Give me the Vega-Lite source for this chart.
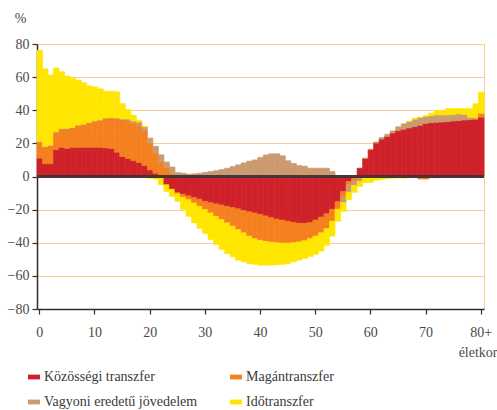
{
  "$schema": "https://vega.github.io/schema/vega-lite/v6.json",
  "width": 447,
  "height": 265,
  "autosize": {"type": "none"},
  "padding": {"left": 37, "top": 44, "right": 13, "bottom": 101},
  "background": "white",
  "config": {
    "font": "Liberation Sans Narrow",
    "view": {"stroke": "#FDC98F", "strokeWidth": 1},
    "axis": {"labelFont": "Liberation Sans Narrow", "titleFont": "Liberation Sans Narrow", "labelColor": "#4a4a4a", "titleColor": "#4a4a4a", "labelFontSize": 14, "titleFontSize": 14, "titleFontWeight": "normal", "domainColor": "#3b2a2a", "tickColor": "#3b2a2a", "domainWidth": 1.5, "tickWidth": 1.2, "labelOverlap": false},
    "legend": {"labelFont": "Liberation Sans Narrow", "labelFontSize": 14, "labelColor": "#3a3a3a"}
  },
  "resolve": {"axis": {"y": "independent"}},
  "data": {
    "values": [
      {"age":0,"a":11.1,"b":9.7,"c":0.3,"d":55.1},
      {"age":1,"a":7.7,"b":10.1,"c":0.3,"d":46.9},
      {"age":2,"a":7.7,"b":10.9,"c":0.3,"d":42.3},
      {"age":3,"a":16.2,"b":10.5,"c":0.3,"d":38.5},
      {"age":4,"a":17.6,"b":11.1,"c":0.3,"d":34.2},
      {"age":5,"a":17.0,"b":11.7,"c":0.3,"d":31.6},
      {"age":6,"a":17.6,"b":11.7,"c":0.3,"d":29.8},
      {"age":7,"a":17.6,"b":13.1,"c":0.3,"d":27.2},
      {"age":8,"a":17.6,"b":13.7,"c":0.3,"d":25.0},
      {"age":9,"a":17.6,"b":14.7,"c":0.3,"d":22.1},
      {"age":10,"a":17.6,"b":15.7,"c":0.3,"d":20.5},
      {"age":11,"a":17.6,"b":16.3,"c":0.3,"d":18.7},
      {"age":12,"a":17.3,"b":17.7,"c":0.3,"d":16.2},
      {"age":13,"a":17.0,"b":18.2,"c":0.3,"d":16.0},
      {"age":14,"a":14.7,"b":20.3,"c":0.4,"d":15.7},
      {"age":15,"a":12.1,"b":22.2,"c":0.5,"d":9.2},
      {"age":16,"a":10.9,"b":23.0,"c":0.8,"d":5.7},
      {"age":17,"a":9.7,"b":22.6,"c":1.2,"d":3.5},
      {"age":18,"a":8.5,"b":22.6,"c":1.8,"d":1.0},
      {"age":19,"a":6.7,"b":21.0,"c":2.3,"d":0.3},
      {"age":20,"a":4.0,"b":16.2,"c":3.0,"d":-1.0},
      {"age":21,"a":2.0,"b":12.1,"c":4.1,"d":-1.6},
      {"age":22,"a":1.0,"b":8.1,"c":4.0,"d":-5.0},
      {"age":23,"a":-5.0,"b":5.5,"c":3.2,"d":-4.0},
      {"age":24,"a":-7.7,"b":2.0,"c":3.7,"d":-4.3},
      {"age":25,"a":-9.7,"b":-0.8,"c":2.3,"d":-4.5},
      {"age":26,"a":-10.7,"b":-1.8,"c":2.0,"d":-7.3},
      {"age":27,"a":-11.7,"b":-2.3,"c":1.4,"d":-10.0},
      {"age":28,"a":-12.7,"b":-3.3,"c":1.6,"d":-12.0},
      {"age":29,"a":-13.7,"b":-4.3,"c":2.0,"d":-13.3},
      {"age":30,"a":-15.0,"b":-5.0,"c":2.5,"d":-14.3},
      {"age":31,"a":-15.8,"b":-6.2,"c":3.0,"d":-16.0},
      {"age":32,"a":-16.5,"b":-7.5,"c":3.5,"d":-17.0},
      {"age":33,"a":-17.2,"b":-8.8,"c":4.2,"d":-18.0},
      {"age":34,"a":-18.0,"b":-10.0,"c":5.0,"d":-18.5},
      {"age":35,"a":-18.8,"b":-11.2,"c":6.0,"d":-18.5},
      {"age":36,"a":-19.5,"b":-12.5,"c":7.0,"d":-18.5},
      {"age":37,"a":-20.5,"b":-13.5,"c":8.2,"d":-17.5},
      {"age":38,"a":-21.3,"b":-14.7,"c":9.3,"d":-16.5},
      {"age":39,"a":-22.0,"b":-15.5,"c":10.0,"d":-15.5},
      {"age":40,"a":-22.8,"b":-15.7,"c":11.5,"d":-15.0},
      {"age":41,"a":-23.8,"b":-15.4,"c":13.0,"d":-14.3},
      {"age":42,"a":-24.8,"b":-14.8,"c":13.7,"d":-13.9},
      {"age":43,"a":-25.7,"b":-14.3,"c":13.7,"d":-13.3},
      {"age":44,"a":-26.3,"b":-13.9,"c":12.5,"d":-12.8},
      {"age":45,"a":-27.0,"b":-13.2,"c":9.5,"d":-12.3},
      {"age":46,"a":-27.7,"b":-12.3,"c":7.8,"d":-11.5},
      {"age":47,"a":-28.2,"b":-11.3,"c":6.6,"d":-11.0},
      {"age":48,"a":-28.3,"b":-10.5,"c":6.2,"d":-10.7},
      {"age":49,"a":-27.8,"b":-9.7,"c":5.0,"d":-10.8},
      {"age":50,"a":-26.3,"b":-9.7,"c":5.0,"d":-11.0},
      {"age":51,"a":-24.5,"b":-9.5,"c":5.0,"d":-11.0},
      {"age":52,"a":-22.5,"b":-9.0,"c":5.0,"d":-10.0},
      {"age":53,"a":-19.8,"b":-7.2,"c":3.0,"d":-9.0},
      {"age":54,"a":-15.2,"b":-4.6,"c":0.5,"d":-7.2},
      {"age":55,"a":-9.1,"b":-3.2,"c":-3.4,"d":-5.3},
      {"age":56,"a":-3.0,"b":-2.0,"c":-4.5,"d":-4.5},
      {"age":57,"a":0.4,"b":-2.5,"c":-3.0,"d":-4.0},
      {"age":58,"a":5.0,"b":-0.3,"c":-2.7,"d":-3.0},
      {"age":59,"a":10.8,"b":-0.2,"c":0.3,"d":-3.5},
      {"age":60,"a":16.2,"b":-0.5,"c":0.3,"d":-3.0},
      {"age":61,"a":20.2,"b":-0.5,"c":0.6,"d":-1.7},
      {"age":62,"a":22.6,"b":-0.3,"c":0.9,"d":-1.5},
      {"age":63,"a":24.2,"b":0,"c":1.3,"d":-1.2},
      {"age":64,"a":26.3,"b":0,"c":1.2,"d":-1.0},
      {"age":65,"a":27.7,"b":0,"c":2.3,"d":-0.8},
      {"age":66,"a":28.5,"b":-0.3,"c":3.3,"d":-0.7},
      {"age":67,"a":29.3,"b":0,"c":3.9,"d":0.3},
      {"age":68,"a":30.1,"b":-0.5,"c":4.5,"d":0.6},
      {"age":69,"a":30.9,"b":-1.5,"c":4.7,"d":0.2},
      {"age":70,"a":32.0,"b":-1.5,"c":4.2,"d":0.6},
      {"age":71,"a":32.5,"b":-0.7,"c":4.1,"d":1.6},
      {"age":72,"a":32.7,"b":-0.7,"c":4.5,"d":2.6},
      {"age":73,"a":32.9,"b":-0.6,"c":4.3,"d":2.6},
      {"age":74,"a":33.1,"b":-0.6,"c":4.1,"d":3.8},
      {"age":75,"a":33.5,"b":-0.4,"c":3.9,"d":3.6},
      {"age":76,"a":33.7,"b":-0.3,"c":4.1,"d":3.2},
      {"age":77,"a":34.1,"b":-0.3,"c":3.3,"d":3.6},
      {"age":78,"a":34.3,"b":-0.3,"c":1.5,"d":5.2},
      {"age":79,"a":34.5,"b":0.6,"c":0.4,"d":8.4},
      {"age":80,"a":35.8,"b":2.4,"c":-0.3,"d":12.7}
    ]
  },
  "layer": [
    {
      "transform": [{"fold": ["a", "b", "c", "d"], "as": ["k", "v"]}, {"filter": "datum.v != 0"}],
      "mark": {"type": "bar", "strokeWidth": 0.7},
      "encoding": {
        "x": {
          "field": "age", "type": "ordinal",
          "scale": {"paddingInner": 0, "paddingOuter": 0},
          "axis": {
            "values": [0, 10, 20, 30, 40, 50, 60, 70, 80],
            "labelExpr": "datum.value == 80 ? '80+' : datum.label",
            "labelAngle": 0, "tickSize": 5, "labelPadding": 11, "labelOverlap": false,
            "title": "életkor", "titleAnchor": "end", "titleAlign": "right", "titleBaseline": "middle",
            "titleX": 460, "titleY": 43
          }
        },
        "y": {
          "field": "v", "type": "quantitative", "stack": "zero",
          "scale": {"domain": [-80, 80], "nice": false},
          "axis": {
            "values": [-80, -60, -40, -20, 0, 20, 40, 60, 80],
            "labelOverlap": false, "labelFlush": false, "labelBound": false,
            "grid": true, "gridColor": "#FDC98F", "gridWidth": 1,
            "tickSize": 5, "labelPadding": 3,
            "title": "%", "titleAngle": 0, "titleAlign": "center", "titleBaseline": "middle",
            "titleX": -17, "titleY": -26
          }
        },
        "color": {
          "field": "k", "type": "nominal",
          "scale": {"domain": ["a", "b", "c", "d"], "range": ["#CE212A", "#F58020", "#CC9A70", "#FFE600"]},
          "legend": {
            "title": null, "orient": "none", "legendX": -10, "legendY": 326, "direction": "horizontal",
            "columns": 2, "columnPadding": 31, "rowPadding": 11,
            "symbolType": "M-1,-0.4H1V0.4H-1Z", "symbolSize": 144, "symbolStrokeWidth": 0, "labelOffset": 3,
            "labelExpr": "datum.label == 'a' ? 'Közösségi transzfer' : datum.label == 'b' ? 'Magántranszfer' : datum.label == 'c' ? 'Vagyoni eredetű jövedelem' : 'Időtranszfer'"
          }
        },
        "stroke": {
          "field": "k", "type": "nominal",
          "scale": {"domain": ["a", "b", "c", "d"], "range": ["#CE212A", "#F58020", "#CC9A70", "#FFE600"]},
          "legend": null
        },
        "order": {"field": "k", "sort": "ascending"}
      }
    },
    {
      "mark": {"type": "rule", "color": "#4a3535", "strokeWidth": 1.5},
      "encoding": {"y": {"datum": 0, "type": "quantitative", "axis": null}}
    }
  ]
}
